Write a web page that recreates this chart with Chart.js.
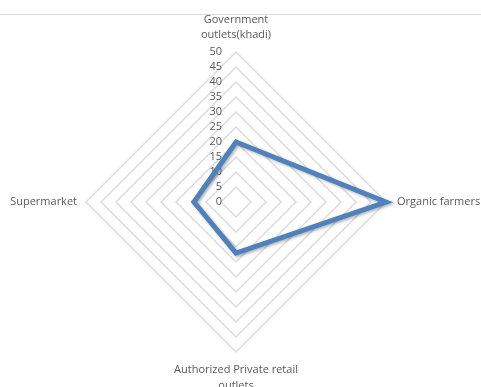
<!DOCTYPE html>
<html><head><meta charset="utf-8">
<script src="https://cdn.jsdelivr.net/npm/chart.js@4.4.0/dist/chart.umd.min.js"></script>
<style>html,body{margin:0;padding:0;background:#fff;}#wrap{position:relative;width:481px;height:387px;}</style>
</head><body><div id="wrap"><canvas id="c" width="481" height="387"></canvas></div>
<script>
const categories = [['Government', 'outlets(khadi)'], 'Organic farmers', ['Authorized Private retail', 'outlets'], 'Supermarket'];
const seriesName = 'Series1';
const values = [20, 50, 17, 14];
const scaleMin = 0;
const scaleMax = 50;
const scaleStep = 5;

const FONT = '11px "Open Sans", sans-serif';
const TEXT = '#595959';

const decor = {
  id: 'decor',
  beforeDraw(chart) {
    const ctx = chart.ctx;
    ctx.save();
    ctx.strokeStyle = '#d9d9d9';
    ctx.lineWidth = 1;
    ctx.beginPath();
    ctx.moveTo(0, 14.5);
    ctx.lineTo(chart.width, 14.5);
    ctx.stroke();
    ctx.restore();
  },
  beforeDatasetsDraw(chart) {
    const s = chart.scales.r;
    const ctx = chart.ctx;
    ctx.save();
    ctx.font = FONT;
    ctx.fillStyle = TEXT;
    ctx.textAlign = 'right';
    ctx.textBaseline = 'middle';
    s.ticks.forEach(t => {
      const p = s.getPointPositionForValue(0, t.value);
      ctx.fillText(t.label, s.xCenter - 14, p.y);
    });
    ctx.restore();
  },
  beforeDatasetDraw(chart) {
    const ctx = chart.ctx;
    ctx.save();
    ctx.shadowColor = 'rgba(0,0,0,0.3)';
    ctx.shadowBlur = 3;
    ctx.shadowOffsetX = 1.5;
    ctx.shadowOffsetY = 1.5;
  },
  afterDatasetDraw(chart) {
    chart.ctx.restore();
  },
  afterDraw(chart) {
    const s = chart.scales.r;
    const ctx = chart.ctx;
    const R = s.drawingArea;
    const labels = chart.data.labels;
    ctx.save();
    ctx.font = FONT;
    ctx.fillStyle = TEXT;
    ctx.textBaseline = 'middle';
    const lh = 15.5;
    let p = s.getPointPosition(0, R);
    let lines = [].concat(labels[0]);
    ctx.textAlign = 'center';
    lines.forEach((l, i) => ctx.fillText(l, p.x, p.y - 17 - (lines.length - 1 - i) * lh));
    p = s.getPointPosition(1, R);
    ctx.textAlign = 'left';
    ctx.fillText([].concat(labels[1]).join(' '), p.x + 11, p.y);
    p = s.getPointPosition(2, R);
    lines = [].concat(labels[2]);
    ctx.textAlign = 'center';
    lines.forEach((l, i) => ctx.fillText(l, p.x, p.y + 18 + i * lh));
    p = s.getPointPosition(3, R);
    ctx.textAlign = 'right';
    ctx.fillText([].concat(labels[3]).join(' '), p.x - 9, p.y);
    ctx.restore();
  }
};

new Chart(document.getElementById('c'), {
  type: 'radar',
  data: {
    labels: categories,
    datasets: [{
      label: seriesName,
      data: values,
      borderColor: '#4F81BD',
      backgroundColor: 'rgba(0,0,0,0)',
      borderWidth: 5,
      fill: false,
      pointRadius: 0,
      pointHoverRadius: 0,
      tension: 0,
      borderJoinStyle: 'miter'
    }]
  },
  options: {
    responsive: false,
    animation: false,
    devicePixelRatio: 1,
    layout: { padding: { left: 86, top: 52, right: 95, bottom: 35 } },
    plugins: { legend: { display: false }, tooltip: { enabled: false } },
    scales: {
      r: {
        min: scaleMin,
        max: scaleMax,
        beginAtZero: true,
        ticks: { stepSize: scaleStep, display: false },
        pointLabels: { display: false },
        angleLines: { display: false },
        grid: { color: '#dcdcdc', lineWidth: 1.5 }
      }
    }
  },
  plugins: [decor]
});
</script></body></html>
